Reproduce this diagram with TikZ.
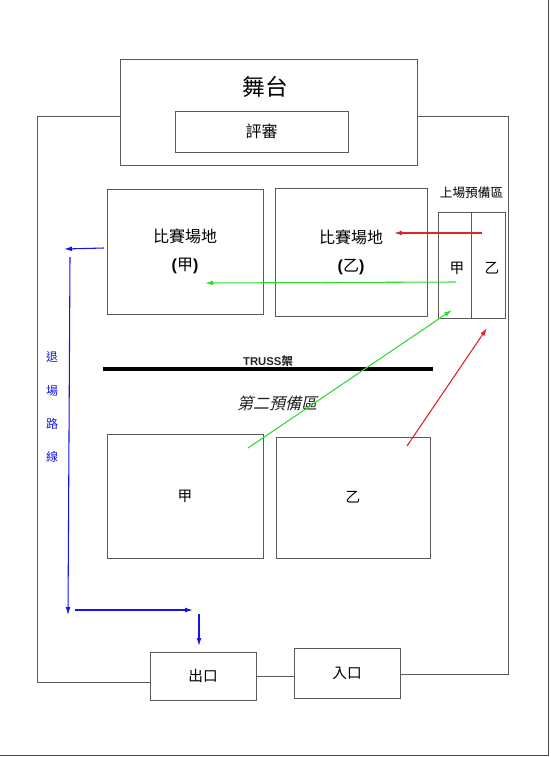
\documentclass[tikz,border=0pt]{standalone}
\usepackage{fontspec}
\setmainfont{Liberation Serif}
\newfontfamily\cjk{Noto Sans CJK TC}
\newfontfamily\cjkit{Noto Sans CJK TC}[FakeSlant=0.25]
\newfontfamily\hsans{Liberation Sans}
\usetikzlibrary{arrows.meta}
\newcommand\pxu{0.75pt}
\definecolor{linegray}{HTML}{5A5A5A}
\definecolor{routeblue}{HTML}{1414EE}
\definecolor{routegreen}{HTML}{2EDC2E}
\definecolor{routered}{HTML}{E02222}
\begin{document}
\begin{tikzpicture}[x=0.75pt,y=-0.75pt,
  box/.style={draw=linegray, line width=0.65pt, rectangle, inner sep=0pt},
  wire/.style={draw=linegray, line width=0.65pt},
  arr/.style={line width=0.8pt, -{Latex[length=6pt,width=3.6pt]}},
  txtbig/.style={font=\cjk\fontsize{17}{20}\selectfont},
  txtmid/.style={font=\cjk\fontsize{12}{21}\selectfont, align=center},
  txtsm/.style={font=\cjk\fontsize{11}{13}\selectfont}
]
\useasboundingbox (0,0) rectangle (550,757);

% page edge
\draw[draw=linegray!80!black, line width=1pt] (548.5,0) -- (548.5,755.5) -- (0,755.5);

% stage and judges
\node[box, minimum width=297*\pxu, minimum height=106*\pxu] (stage) at (268.5,112.5) {};
\node[txtbig] (stagetxt) at (265,87) {舞台};
\node[box, minimum width=173*\pxu, minimum height=41*\pxu, font=\cjk\fontsize{12}{14}\selectfont] (judge) at (261.5,131.5) {評審};

% competition fields
\node[box, minimum width=156*\pxu, minimum height=125*\pxu, txtmid] (fieldA) at (185,251.5)
  {比賽場地\\{\hsans\bfseries (}甲{\hsans\bfseries )}};
\node[box, minimum width=152*\pxu, minimum height=128*\pxu, txtmid] (fieldB) at (351,252.5)
  {比賽場地\\{\hsans\bfseries (}乙{\hsans\bfseries )}};

% ready area
\node[font=\cjk\fontsize{9.5}{11}\selectfont] (readylbl) at (471.5,193) {上場預備區};
\node[box, minimum width=67*\pxu, minimum height=106*\pxu] (ready) at (471.5,265) {};
\draw[wire] (ready.north) -- (ready.south);
\node[txtsm] (readyA) at (457,268) {甲};
\node[txtsm] (readyB) at (492,268) {乙};

% truss
\coordinate (t1) at (103,369);
\coordinate (t2) at (433,369);
\draw[line width=2.7pt, black] (t1) -- (t2);
\node[font=\hsans\bfseries\fontsize{8.5}{10}\selectfont, text=black!85] (trusslbl) at (268,361) {TRUSS{\cjk 架}};

% second ready area
\node[font=\cjkit\fontsize{12}{14}\selectfont, text=black!88] (secondlbl) at (277,403) {第二預備區};
\node[box, minimum width=156*\pxu, minimum height=124*\pxu, txtsm] (waitA) at (185,496) {甲};
\node[box, minimum width=154*\pxu, minimum height=121*\pxu, txtsm] (waitB) at (353,497.5) {乙};

% exit / entry
\node[box, minimum width=106*\pxu, minimum height=48*\pxu, font=\cjk\fontsize{11}{13}\selectfont] (exit) at (203,676) {出口};
\node[box, minimum width=106*\pxu, minimum height=50*\pxu, font=\cjk\fontsize{11}{13}\selectfont] (entry) at (347,673) {入口};
\draw[wire] (exit.east) -- (entry.west |- exit.east);

% outer loop
\coordinate (lc1) at (37,116);
\coordinate (lc2) at (37,682);
\coordinate (rc1) at (508,116);
\coordinate (rc2) at (508,674);
\draw[wire] (stage.west |- lc1) -- (lc1) -- (lc2) -- (exit.west |- lc2);
\draw[wire] (stage.east |- rc1) -- (rc1) -- (rc2) -- (entry.east |- rc2);

% exit route (blue)
\node[font=\cjk\fontsize{9}{24.8}\selectfont, text=routeblue, align=center] (routelbl) at (52,407) {退\\場\\路\\線};
\coordinate (b1s) at (104,248);
\coordinate (b1e) at (64,249);
\coordinate (b2s) at (70,257);
\coordinate (b2e) at (68,615);
\coordinate (b3s) at (75,610);
\coordinate (b3e) at (193,610);
\coordinate (b4s) at (199,614);
\coordinate (b4e) at (199,646);
\draw[arr, routeblue] (b1s) -- (b1e);
\draw[arr, routeblue] (b2s) -- (b2e);
\draw[arr, routeblue] (b3s) -- (b3e);
\draw[arr, routeblue] (b4s) -- (b4e);

% team routes
\coordinate (r1s) at (482,233);
\coordinate (r1e) at (394,233);
\coordinate (g1s) at (456,282);
\coordinate (g1e) at (205,283);
\coordinate (g2s) at (248,448);
\coordinate (g2e) at (452,310);
\coordinate (r2s) at (407,446);
\coordinate (r2e) at (487,328);
\draw[arr, routered] (r1s) -- (r1e);
\draw[arr, routegreen] (g1s) -- (g1e);
\draw[arr, routegreen] (g2s) -- (g2e);
\draw[arr, routered] (r2s) -- (r2e);
\end{tikzpicture}
\end{document}
